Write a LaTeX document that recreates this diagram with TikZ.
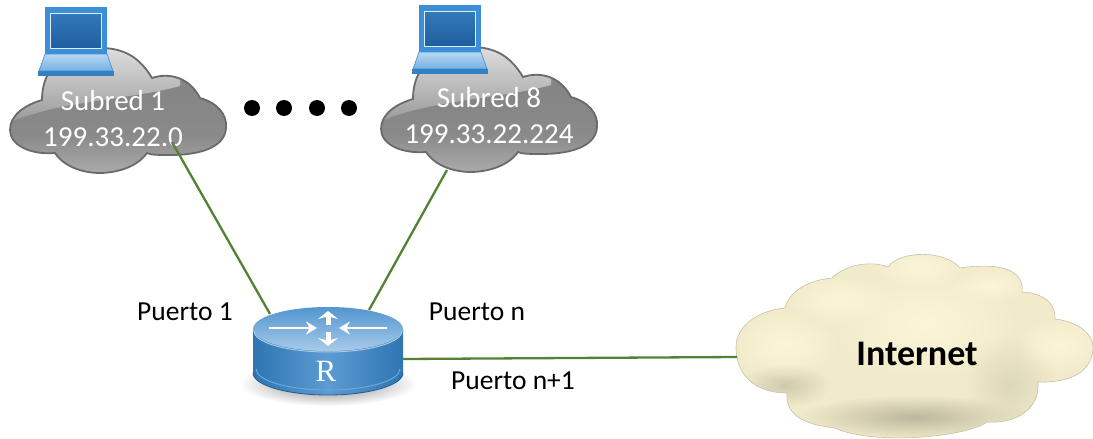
\documentclass[tikz,border=0pt]{standalone}
\usepackage{fontspec}
\setmainfont{Carlito}
\newfontfamily\routerfont{Liberation Serif}
\usetikzlibrary{arrows.meta}
\usetikzlibrary{fadings}

\definecolor{linkgreen}{HTML}{548235}
\definecolor{cloudedge}{HTML}{6A6A6A}
\definecolor{lapblue}{HTML}{3A8FD8}
\definecolor{lapdark}{HTML}{1F5E9F}
\definecolor{lapmid}{HTML}{3379BA}
\definecolor{rtblue}{HTML}{3F8ACB}
\definecolor{rtdark}{HTML}{2E75B2}
\definecolor{creamlight}{HTML}{FDF5D8}
\definecolor{creambase}{HTML}{F1EBCB}

\tikzfading[name=fuzzy, inner color=transparent!0, outer color=transparent!100]

\pgfdeclareverticalshading{greyfill}{100bp}{
  color(0bp)=(black!33); color(25bp)=(black!33); color(40bp)=(black!46);
  color(60bp)=(black!48); color(75bp)=(black!40); color(100bp)=(black!40)}

\newcommand{\greypath}{(42,100) .. controls (42,60) and (75,48) .. (100,48)
  .. controls (125,48) and (140,58) .. (152,78)
  .. controls (170,72) and (190,78) .. (200,98)
  .. controls (218,103) and (227,115) .. (226,127)
  .. controls (226,145) and (205,155) .. (170,155)
  .. controls (160,155) and (150,155) .. (147,153)
  .. controls (135,170) and (110,173) .. (100,173)
  .. controls (85,173) and (65,168) .. (55,153)
  .. controls (30,155) and (10,145) .. (10,130)
  .. controls (10,115) and (25,105) .. (42,100) -- cycle}

\newcommand{\creampath}{(785,308) .. controls (790,290) and (810,280) .. (832,278)
  .. controls (845,265) and (870,260) .. (888,267)
  .. controls (900,250) and (945,250) .. (960,268)
  .. controls (1000,262) and (1025,270) .. (1022,292)
  .. controls (1045,293) and (1056,305) .. (1055,319)
  .. controls (1080,322) and (1093,335) .. (1093,347)
  .. controls (1093,372) and (1070,383) .. (1038,382)
  .. controls (1040,410) and (1015,424) .. (987,422)
  .. controls (965,438) and (870,445) .. (835,428)
  .. controls (805,425) and (785,415) .. (787,393)
  .. controls (755,393) and (736,375) .. (736,347)
  .. controls (736,325) and (760,310) .. (785,308) -- cycle}

\begin{document}
\begin{tikzpicture}[
    x=1pt,y=-1pt,
    link/.style={draw=linkgreen,line width=2.3pt},
    subnet/.style={align=center,text=white,inner sep=0pt,font=\fontsize{29}{36}\selectfont},
    port/.style={inner sep=0pt,font=\fontsize{27.5}{32}\selectfont},
    dot/.style={fill=black,circle,minimum size=16pt,inner sep=0pt},
    pics/greycloud/.style={code={
        \shade[shading=greyfill] \greypath;
        \begin{scope}
          \clip \greypath;
          \shade[top color=black!12,bottom color=black!40]
            (5,124) .. controls (60,100) and (130,100) .. (180,86) -- (180,45) -- (5,45) -- cycle;
        \end{scope}
        \draw[cloudedge,line width=1.8pt] \greypath;
    }},
    pics/laptop/.style={code={
        \fill[lapblue] (45,7) rectangle (107,54);
        \shade[top color=lapmid,bottom color=lapdark,draw=white!85!lapblue,line width=1pt]
          (50.5,13.5) rectangle (101.5,48.5);
        \shade[top color=white!65!lapblue,bottom color=white!30!lapblue,draw=lapblue,line width=.6pt]
          (45,54) -- (107,54) -- (113,71) -- (39,71) -- cycle;
        \fill[lapblue!90!black] (38,71) rectangle (114,76);
    }}
    ]

    \useasboundingbox (0,0) rectangle (1093,439);

    % subnets
    \pic at (0,0) {greycloud};
    \pic at (371,-1) {greycloud};
    \pic at (0,0) {laptop};
    \pic at (374,-2) {laptop};

    \node[subnet] (subnetA) at (113,119) {Subred 1\\199.33.22.0};
    \node[subnet] (subnetB) at (489,116) {Subred 8\\199.33.22.224};

    \foreach \n/\xpos in {a/252,b/284,c/317,d/349}
      \node[dot] (dot\n) at (\xpos,108) {};

    % internet
    \fill[creambase] \creampath;
    \begin{scope}
      \clip \creampath;
      \fill[black!22!creambase,path fading=fuzzy] (915,417) ellipse (115pt and 22pt);
      \fill[black!14!creambase,path fading=fuzzy] (785,385) ellipse (45pt and 22pt);
      \fill[black!8!creambase,path fading=fuzzy] (1010,385) ellipse (45pt and 50pt);
      \fill[creamlight,path fading=fuzzy] (925,325) ellipse (95pt and 55pt);
      \fill[creamlight,path fading=fuzzy] (920,268) ellipse (50pt and 22pt);
      \fill[creamlight,path fading=fuzzy] (785,345) ellipse (55pt and 35pt);
      \fill[creamlight,path fading=fuzzy] (1060,345) ellipse (45pt and 28pt);
      \fill[creamlight,path fading=fuzzy] (840,300) ellipse (55pt and 25pt);
      \fill[creamlight,path fading=fuzzy] (990,285) ellipse (40pt and 18pt);
    \end{scope}
    \draw[black!18!creambase,line width=.6pt] \creampath;
    \node[inner sep=0pt,font=\fontsize{36}{40}\selectfont\bfseries] (internet) at (917,354) {Internet};

    % ports of the links
    \coordinate (subnetAport) at (172,142);
    \coordinate (subnetBport) at (447,170);
    \coordinate (routerA) at (270,314);
    \coordinate (routerB) at (369,310);
    \coordinate (routerC) at (403,359);
    \coordinate (internetport) at (737,357);

    \path (subnetAport) edge[link] (routerA)
    (subnetBport) edge[link] (routerB)
    (routerC) edge[link] (internetport)
    ;

    % router
    \fill[black,opacity=.5,path fading=fuzzy] (328,384) ellipse (88pt and 22pt);
    \shade[left color=rtdark,right color=rtdark,middle color=rtblue!85!white]
      (253,329) -- (253,373) arc[start angle=180,end angle=360,x radius=75,y radius=-22]
      -- (403,329) -- cycle;
    \draw[white!25!rtblue,line width=1pt]
      (256,369) arc[start angle=180,end angle=360,x radius=72,y radius=-21];
    \draw[rtdark!80!black,line width=.8pt]
      (253,373) arc[start angle=180,end angle=360,x radius=75,y radius=-22];
    \shade[top color=rtblue!90!white,bottom color=rtblue!45!white]
      (328,329) ellipse (75pt and 22pt);
    \draw[white!55!rtblue,line width=1pt]
      (254,331) arc[start angle=180,end angle=360,x radius=74,y radius=-21];
    \draw[white,line width=1.4pt,-{Stealth[length=11pt,width=13pt]}] (269,328) -- (317,328);
    \draw[white,line width=1.4pt,-{Stealth[length=11pt,width=13pt]}] (387,328) -- (339,328);
    \draw[white,line width=5pt,-{Stealth[length=8pt,width=20pt]}] (328,325) -- (328,311);
    \draw[white,line width=5pt,-{Stealth[length=8pt,width=20pt]}] (328,332) -- (328,346);
    \node[inner sep=0pt,text=white,font=\routerfont\fontsize{31}{34}\selectfont] (router) at (326,371) {R};

    \node[port] (portA) at (185,312) {Puerto 1};
    \node[port] (portB) at (477,312) {Puerto n};
    \node[port] (portC) at (513,381) {Puerto n+1};
  \end{tikzpicture}
\end{document}
